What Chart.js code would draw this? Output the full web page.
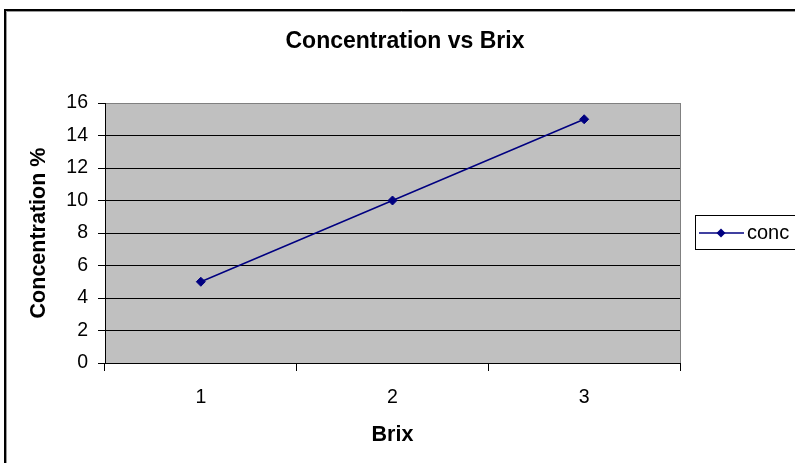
<!DOCTYPE html>
<html>
<head>
<meta charset="utf-8">
<script src="https://cdn.jsdelivr.net/npm/chart.js@4"></script>
<style>
  html, body { margin: 0; padding: 0; background: #fff; }
  #wrap { width: 795px; height: 463px; position: relative; }
</style>
</head>
<body>
<div id="wrap"><canvas id="c"></canvas></div>
<script>
const categories = ['1', '2', '3'];
const concValues = [5, 10, 15];
const seriesName = 'conc';
const chartTitle = 'Concentration vs Brix';
const xTitle = 'Brix';
const yTitle = 'Concentration %';
const yMin = 0, yMax = 16, yStep = 2;

const FONT = "'Liberation Sans', Arial, sans-serif";
const NAVY = '#000080';

const decor = {
  id: 'decor',
  beforeDraw(chart) {
    const ctx = chart.ctx;
    const a = chart.chartArea;
    ctx.save();
    ctx.fillStyle = '#ffffff';
    ctx.fillRect(0, 0, chart.width, chart.height);
    ctx.fillStyle = '#c0c0c0';
    ctx.fillRect(a.left, a.top, a.right - a.left, a.bottom - a.top);
    ctx.restore();
  },
  afterDraw(chart) {
    const ctx = chart.ctx;
    const a = chart.chartArea;
    ctx.save();
    ctx.strokeStyle = '#808080';
    ctx.lineWidth = 1;
    ctx.beginPath();
    ctx.moveTo(Math.round(a.right) + 0.5, a.top);
    ctx.lineTo(Math.round(a.right) + 0.5, a.bottom);
    ctx.stroke();
    ctx.strokeStyle = '#000';
    ctx.lineWidth = 2;
    ctx.beginPath();
    ctx.moveTo(5, chart.height + 5);
    ctx.lineTo(5, 10);
    ctx.lineTo(chart.width + 5, 10);
    ctx.stroke();
    ctx.strokeStyle = '#9a9a9a';
    ctx.lineWidth = 1;
    ctx.beginPath();
    ctx.moveTo(6.5, chart.height + 5);
    ctx.lineTo(6.5, 11.5);
    ctx.lineTo(chart.width + 5, 11.5);
    ctx.stroke();
    ctx.fillStyle = '#000';
    ctx.font = "bold 23px " + FONT;
    ctx.textAlign = 'center';
    ctx.textBaseline = 'alphabetic';
    ctx.fillText(chartTitle, 405, 48);
    ctx.strokeStyle = '#000';
    ctx.lineWidth = 1;
    ctx.strokeRect(695.5, 215.5, 130, 34);
    ctx.strokeStyle = NAVY;
    ctx.lineWidth = 1.5;
    ctx.beginPath();
    ctx.moveTo(699, 233);
    ctx.lineTo(744, 233);
    ctx.stroke();
    ctx.fillStyle = NAVY;
    ctx.beginPath();
    ctx.moveTo(721, 228.5);
    ctx.lineTo(725.5, 233);
    ctx.lineTo(721, 237.5);
    ctx.lineTo(716.5, 233);
    ctx.closePath();
    ctx.fill();
    ctx.fillStyle = '#000';
    ctx.font = "20px " + FONT;
    ctx.textAlign = 'left';
    ctx.textBaseline = 'middle';
    ctx.fillText(seriesName, 747, 233);
    ctx.restore();
  }
};

new Chart(document.getElementById('c'), {
  type: 'line',
  data: {
    labels: categories,
    datasets: [{
      label: seriesName,
      data: concValues,
      borderColor: NAVY,
      backgroundColor: NAVY,
      borderWidth: 1.5,
      pointStyle: 'rectRot',
      pointRadius: 4.5,
      pointBorderWidth: 1,
      pointBackgroundColor: NAVY,
      pointBorderColor: NAVY,
      tension: 0,
      fill: false
    }]
  },
  options: {
    responsive: true,
    maintainAspectRatio: false,
    animation: false,
    devicePixelRatio: 1,
    layout: { padding: { top: 103, right: 115, bottom: 0, left: 0 } },
    plugins: {
      legend: { display: false },
      title: { display: false },
      tooltip: { enabled: false }
    },
    scales: {
      x: {
        type: 'category',
        offset: true,
        afterFit: s => { s.height = 100; },
        grid: {
          offset: true,
          drawOnChartArea: false,
          drawTicks: true,
          tickLength: 8,
          color: '#000',
          tickColor: '#000'
        },
        border: { display: true, color: '#000', width: 1 },
        ticks: {
          color: '#000',
          font: { family: FONT, size: 19.5 },
          padding: 15,
          maxRotation: 0
        },
        title: {
          display: true,
          text: xTitle,
          color: '#000',
          font: { family: FONT, size: 21.5, weight: 'bold' },
          padding: { top: 0, bottom: 15 }
        }
      },
      y: {
        min: yMin,
        max: yMax,
        afterFit: s => { s.width = 105; },
        grid: {
          color: c => (c.tick && c.tick.value === yMax) ? '#808080' : '#000',
          tickColor: '#000',
          tickLength: 7,
          drawTicks: true
        },
        border: { display: true, color: '#000', width: 1 },
        ticks: {
          stepSize: yStep,
          color: '#000',
          font: { family: FONT, size: 19.5 },
          padding: 10
        },
        title: {
          display: true,
          text: yTitle,
          color: '#000',
          font: { family: FONT, size: 21.5, weight: 'bold' },
          padding: { top: 26, bottom: 0 }
        }
      }
    }
  },
  plugins: [decor]
});
</script>
</body>
</html>
